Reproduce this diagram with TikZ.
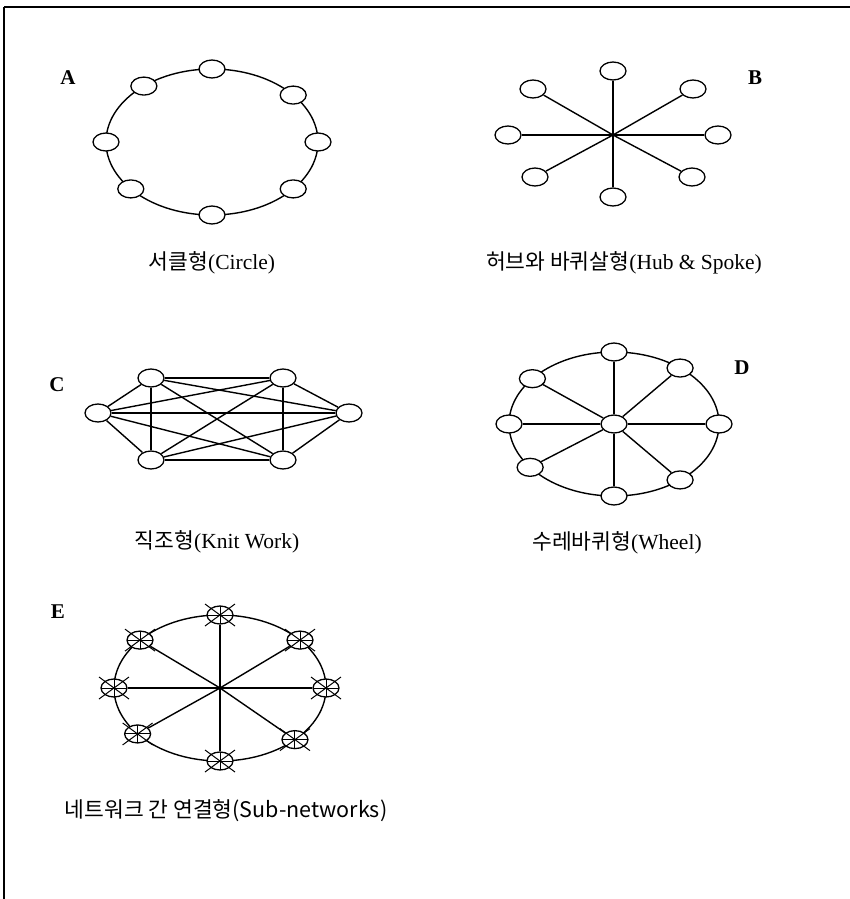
\documentclass[tikz,border=0pt]{standalone}
\usepackage{fontspec}
\setmainfont{Liberation Serif}
\newfontfamily\krfont{Noto Sans CJK KR}
\usetikzlibrary{shapes.geometric,calc}

\begin{document}
\begin{tikzpicture}[x=1pt,y=-1pt,
  pc/.style={draw,ellipse,fill=white,minimum width=26pt,minimum height=18pt,inner sep=0pt,line width=1.3pt},
  link/.style={line width=1.4pt},
  cross/.style={line width=1pt},
  tag/.style={font=\fontsize{21}{24}\selectfont\bfseries},
  caption/.style={font=\fontsize{21.5}{25}\selectfont}]
 \useasboundingbox (0,0) rectangle (850,899);
 \draw[line width=2pt] (4,7) -- (850,7);
 \draw[line width=1.4pt] (4,7) -- (4,899);
 % A: circle
 \coordinate (cA) at (212,142);
 \draw[link] (cA) ellipse [x radius=106pt, y radius=73pt];
 \foreach \i/\a in {1/0,2/40,3/90,4/130,5/180,6/220,7/270,8/320}
   \node[pc] (a\i) at ($(cA)+(\a:106pt and 73pt)$) {};
 % B: hub and spoke
 \coordinate (hB) at (613,135);
 \foreach \i/\x/\y in {1/718/135,2/693/89,3/613/71,4/533/89,5/508/135,6/535/177,7/613/197,8/692/177}{
   \node[pc] (b\i) at (\x,\y) {};
   \draw[link] (hB) -- (b\i);
 }
 % C: knit work
 \foreach \i/\x/\y in {1/98/413,2/151/378,3/283/378,4/349/413,5/283/460,6/151/460}
   \node[pc] (c\i) at (\x,\y) {};
 \foreach \s/\t in {1/2,1/4,1/5,1/6,2/3,2/4,2/5,2/6,3/4,3/5,3/6,4/5,4/6,5/6,1/3}
   \draw[link] (c\s) -- (c\t);
 % D: wheel
 \coordinate (cD) at (614,424);
 \draw[link] (cD) ellipse [x radius=105pt, y radius=72pt];
 \node[pc] (hD) at (cD) {};
 \foreach \i/\a in {1/0,2/51,3/90,4/141,5/180,6/217,7/270,8/309}{
   \node[pc] (d\i) at ($(cD)+(\a:105pt and 72pt)$) {};
   \draw[link] (hD) -- (d\i);
 }
 % E: sub-networks
 \coordinate (hE) at (220,688);
 \draw[link] (hE) ellipse [x radius=106pt, y radius=73pt];
 \foreach \i/\a in {1/0,2/41,3/90,4/139,5/180,6/219,7/270,8/315}{
   \node[pc] (e\i) at ($(hE)+(\a:106pt and 73pt)$) {};
   \draw[link] (hE) -- (e\i);
   \draw[cross] ($(e\i)+(-15,-11)$) -- ($(e\i)+(15,11)$);
   \draw[cross] ($(e\i)+(-15,11)$) -- ($(e\i)+(15,-11)$);
   \draw[cross] ($(e\i)+(0,-9)$) -- ($(e\i)+(0,9)$);
   \draw[cross] ($(e\i)+(-13,0)$) -- ($(e\i)+(13,0)$);
 }
 % labels
 \node[tag] (tA) at (68,78) {A};
 \node[tag] (tB) at (755,78) {B};
 \node[tag] (tC) at (57,385) {C};
 \node[tag] (tD) at (742,368) {D};
 \node[tag] (tE) at (58,612) {E};
 \node[caption] (capA) at (212,263) {{\krfont 서클형}(Circle)};
 \node[caption] (capB) at (624,263) {{\krfont 허브와 바퀴살형}(Hub \& Spoke)};
 \node[caption] (capC) at (217,542) {{\krfont 직조형}(Knit Work)};
 \node[caption] (capD) at (617,543) {{\krfont 수레바퀴형}(Wheel)};
 \node[caption] (capE) at (226,811) {{\krfont 네트워크 간 연결형(Sub-networks)}};
\end{tikzpicture}
\end{document}
